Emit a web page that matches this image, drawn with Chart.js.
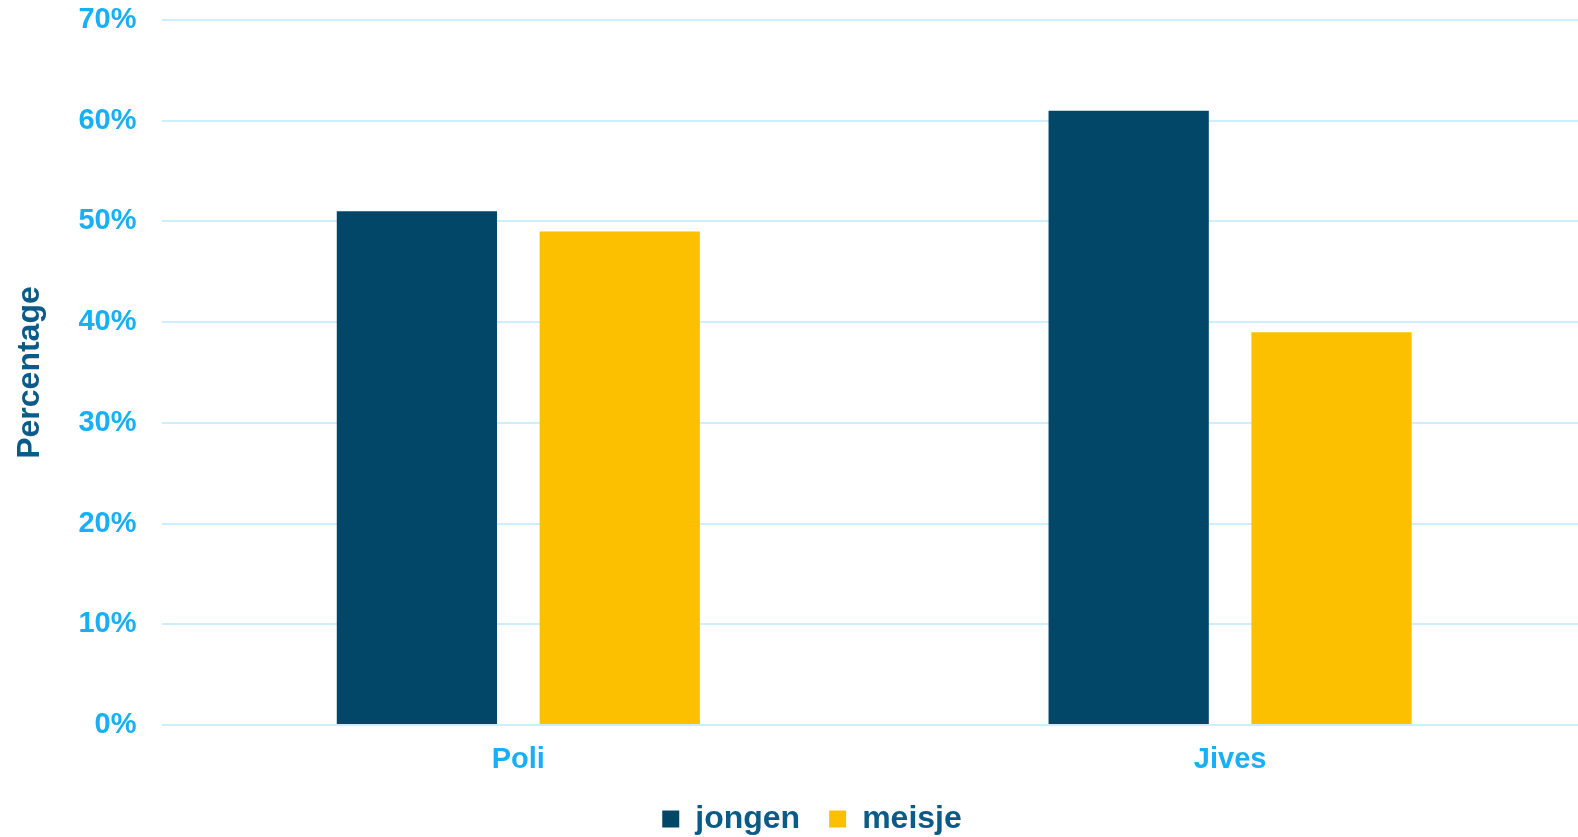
<!DOCTYPE html>
<html>
<head>
<meta charset="utf-8">
<script src="https://cdn.jsdelivr.net/npm/chart.js@4/dist/chart.umd.min.js"></script>
<style>
  html, body { margin: 0; padding: 0; background: #ffffff; overflow: hidden; }
  /* het plotvlak loopt iets voorbij de rechterrand door */
  #wrap { width: 1586px; height: 837px; }
</style>
</head>
<body>
<div id="wrap"><canvas id="genderChart"></canvas></div>
<script>
// categorieen en percentages per groep
const categories = ['Poli', 'Jives'];
const jongen = [51, 61];
const meisje = [49, 39];
const yTicks = [0, 10, 20, 30, 40, 50, 60, 70];

const tickBlue = '#17b0f6';
const darkBlue = '#0b5b88';
const fontFamily = 'Liberation Sans, Arial, sans-serif';

const ctx = document.getElementById('genderChart').getContext('2d');

new Chart(ctx, {
    type: 'bar',
    data: {
        labels: categories,
        datasets: [
            {
                label: 'jongen',
                data: jongen,
                backgroundColor: '#024768',
                borderWidth: 0
            },
            {
                label: 'meisje',
                data: meisje,
                backgroundColor: '#fdc000',
                borderWidth: 0
            }
        ]
    },
    options: {
        responsive: true,
        maintainAspectRatio: false,
        animation: false,
        categoryPercentage: 0.57,
        barPercentage: 0.79,
        layout: {
            // negatieve rechter padding schuift alleen de legenda op
            padding: { top: 20, left: 6, right: -32, bottom: 0 }
        },
        plugins: {
            tooltip: { enabled: false },
            legend: {
                position: 'bottom',
                maxHeight: 63,
                labels: {
                    boxWidth: 17,
                    boxHeight: 17,
                    padding: 29,
                    color: darkBlue,
                    font: { family: fontFamily, size: 32, weight: 'bold' }
                }
            }
        },
        scales: {
            x: {
                grid: { display: false, drawTicks: false },
                border: { display: false },
                ticks: {
                    color: tickBlue,
                    padding: 20,
                    font: { family: fontFamily, size: 29, weight: 'bold', lineHeight: 1 }
                },
                afterFit: function (scale) {
                    scale.height -= 20;
                }
            },
            y: {
                min: yTicks[0],
                max: yTicks[yTicks.length - 1],
                afterBuildTicks: function (scale) {
                    scale.ticks = yTicks.map(v => ({ value: v }));
                },
                // tick padding alleen horizontaal gebruiken, niet boven/onder
                afterFit: function (scale) {
                    scale.paddingTop = 0;
                    scale.paddingBottom = 0;
                },
                grid: { color: '#cdeefc', lineWidth: 2, drawTicks: false },
                border: { display: false },
                ticks: {
                    color: tickBlue,
                    padding: 26,
                    callback: v => v + '%',
                    font: { family: fontFamily, size: 29, weight: 'bold' }
                },
                title: {
                    display: true,
                    text: 'Percentage',
                    color: darkBlue,
                    padding: { top: 5, bottom: 3 },
                    font: { family: fontFamily, size: 32, weight: 'bold' }
                }
            }
        }
    }
});
</script>
</body>
</html>
